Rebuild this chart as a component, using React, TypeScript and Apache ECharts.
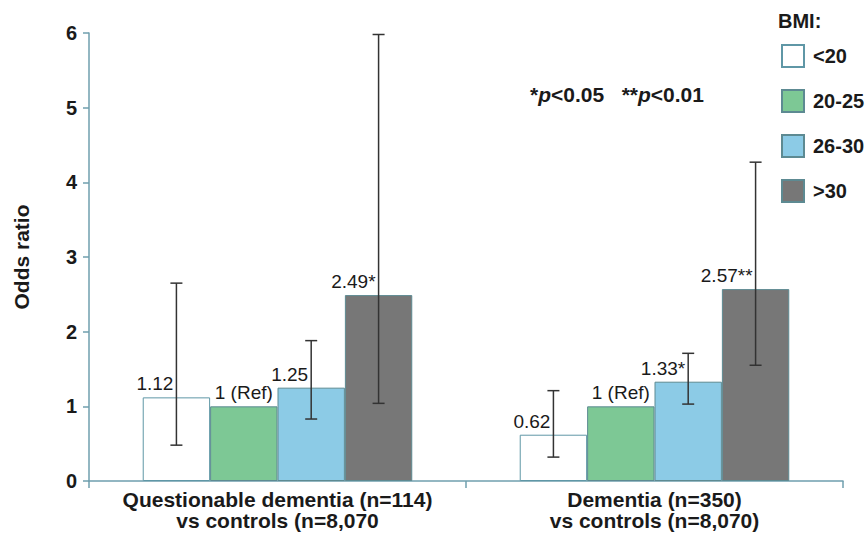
import React, { useEffect, useRef } from "react";
import * as echarts from "echarts";

const categories = ["Questionable dementia (n=114)\nvs controls (n=8,070", "Dementia (n=350)\nvs controls (n=8,070)"];
const seriesNames = ["<20", "20-25", "26-30", ">30"];
const seriesColors = ["#ffffff", "#7dc895", "#8ccbe6", "#777777"];
// odds ratio per BMI class, [questionable dementia, dementia]
const oddsLt20 = [1.12, 0.62];
const odds20to25 = [1, 1];
const odds26to30 = [1.25, 1.33];
const oddsGt30 = [2.49, 2.57];
const lowLt20 = [0.48, 0.32];
const highLt20 = [2.65, 1.21];
const low26to30 = [0.83, 1.03];
const high26to30 = [1.88, 1.71];
const lowGt30 = [1.04, 1.55];
const highGt30 = [5.98, 4.27];
const labelsLt20 = ["1.12", "0.62"];
const labels20to25 = ["1 (Ref)", "1 (Ref)"];
const labels26to30 = ["1.25", "1.33*"];
const labelsGt30 = ["2.49*", "2.57**"];
const yTicks = [0, 1, 2, 3, 4, 5, 6];

const GAP = 0.285;
const FONT = "Liberation Sans, Arial, sans-serif";

export default function App() {
  const ref = useRef<HTMLDivElement>(null);
  useEffect(() => {
    if (!ref.current) return;
    const chart = echarts.init(ref.current, undefined, { renderer: "svg" });
    const values = [oddsLt20, odds20to25, odds26to30, oddsGt30];
    const labels = [labelsLt20, labels20to25, labels26to30, labelsGt30];
    const lows = [lowLt20, null, low26to30, lowGt30];
    const highs = [highLt20, null, high26to30, highGt30];

    const barSeries = seriesNames.map((name, si) => ({
      name,
      type: "bar",
      barGap: "0%",
      barCategoryGap: GAP * 100 + "%",
      itemStyle: { color: seriesColors[si], borderColor: si === 0 ? "#5f97a6" : "#5d8a92", borderWidth: 1 },
      data: values[si].map((v, ci) => ({
        value: v,
        label: {
          show: true,
          position: "top",
          distance: 4,
          formatter: labels[si][ci],
          align: si === 1 ? "center" : "right",
          offset: si === 1 ? [0, 0] : [-3, 0],
          fontFamily: FONT,
          fontSize: 19,
          color: "#1a1a1a",
        },
      })),
    }));

    const errData: number[][] = [];
    seriesNames.forEach((_, si) => {
      const lo = lows[si];
      const hi = highs[si];
      if (!lo || !hi) return;
      categories.forEach((_, ci) => errData.push([ci, si, lo[ci], hi[ci]]));
    });

    const errSeries = {
      type: "custom",
      name: "err",
      z: 10,
      renderItem: (params: any, api: any) => {
        const ci = api.value(0);
        const si = api.value(1);
        const band = api.size([1, 0])[0];
        const bw = (band * (1 - GAP)) / 4;
        const lo = api.coord([ci, api.value(2)]);
        const hi = api.coord([ci, api.value(3)]);
        const x = lo[0] + (si - 1.5) * bw;
        const cap = 6;
        const style = { stroke: "#333", lineWidth: 1.5 };
        return {
          type: "group",
          children: [
            { type: "line", shape: { x1: x, y1: lo[1], x2: x, y2: hi[1] }, style },
            { type: "line", shape: { x1: x - cap, y1: lo[1], x2: x + cap, y2: lo[1] }, style },
            { type: "line", shape: { x1: x - cap, y1: hi[1], x2: x + cap, y2: hi[1] }, style },
          ],
        };
      },
      encode: { x: 0, y: [2, 3] },
      data: errData,
    };

    chart.setOption({
      animation: false,
      backgroundColor: "#ffffff",
      textStyle: { fontFamily: FONT },
      grid: { left: 89, right: 25, top: 33, bottom: 56, containLabel: false },
      legend: {
        data: seriesNames,
        orient: "vertical",
        left: 776,
        top: 39,
        icon: "rect",
        itemWidth: 22,
        itemHeight: 22,
        itemGap: 21,
        selectedMode: false,
        textStyle: { fontFamily: FONT, fontSize: 20, fontWeight: "bold", color: "#1a1a1a", padding: [0, 0, 0, 4] },
      },
      graphic: [
        { type: "text", left: 778, top: 11, style: { text: "BMI:", font: `bold 20px ${FONT}`, fill: "#1a1a1a" } },
        {
          type: "text",
          left: 530,
          top: 84,
          style: {
            text: "{b|*}{i|p}{b|<0.05   **}{i|p}{b|<0.01}",
            rich: {
              b: { font: `bold 21px ${FONT}`, fill: "#1a1a1a" },
              i: { font: `italic bold 21px ${FONT}`, fill: "#1a1a1a" },
            },
          },
        },
      ],
      xAxis: {
        type: "category",
        data: categories,
        axisLine: { lineStyle: { color: "#6f9fae", width: 1.5 } },
        axisTick: { show: true, interval: 0, length: 7, lineStyle: { color: "#6f9fae", width: 1.5 } },
        axisLabel: { interval: 0, fontFamily: FONT, fontSize: 21, fontWeight: "bold", color: "#1a1a1a", margin: 8, lineHeight: 21 },
      },
      yAxis: {
        type: "value",
        min: 0,
        max: 6,
        interval: 1,
        name: "Odds ratio",
        nameLocation: "middle",
        nameGap: 57,
        nameTextStyle: { fontFamily: FONT, fontSize: 21, fontWeight: "bold", color: "#1a1a1a" },
        axisLine: { show: true, lineStyle: { color: "#6f9fae", width: 1.5 } },
        axisTick: { show: true, length: 6, lineStyle: { color: "#6f9fae", width: 1.5 } },
        splitLine: { show: false },
        axisLabel: {
          fontFamily: FONT,
          fontSize: 20,
          fontWeight: "bold",
          color: "#1a1a1a",
          margin: 12,
          formatter: (v: number) => (yTicks.includes(v) ? String(v) : ""),
        },
      },
      series: [...barSeries, errSeries],
    });
    return () => chart.dispose();
  }, []);
  return <div ref={ref} style={{ position: "absolute", left: 0, top: 0, width: 868, height: 537 }} />;
}
